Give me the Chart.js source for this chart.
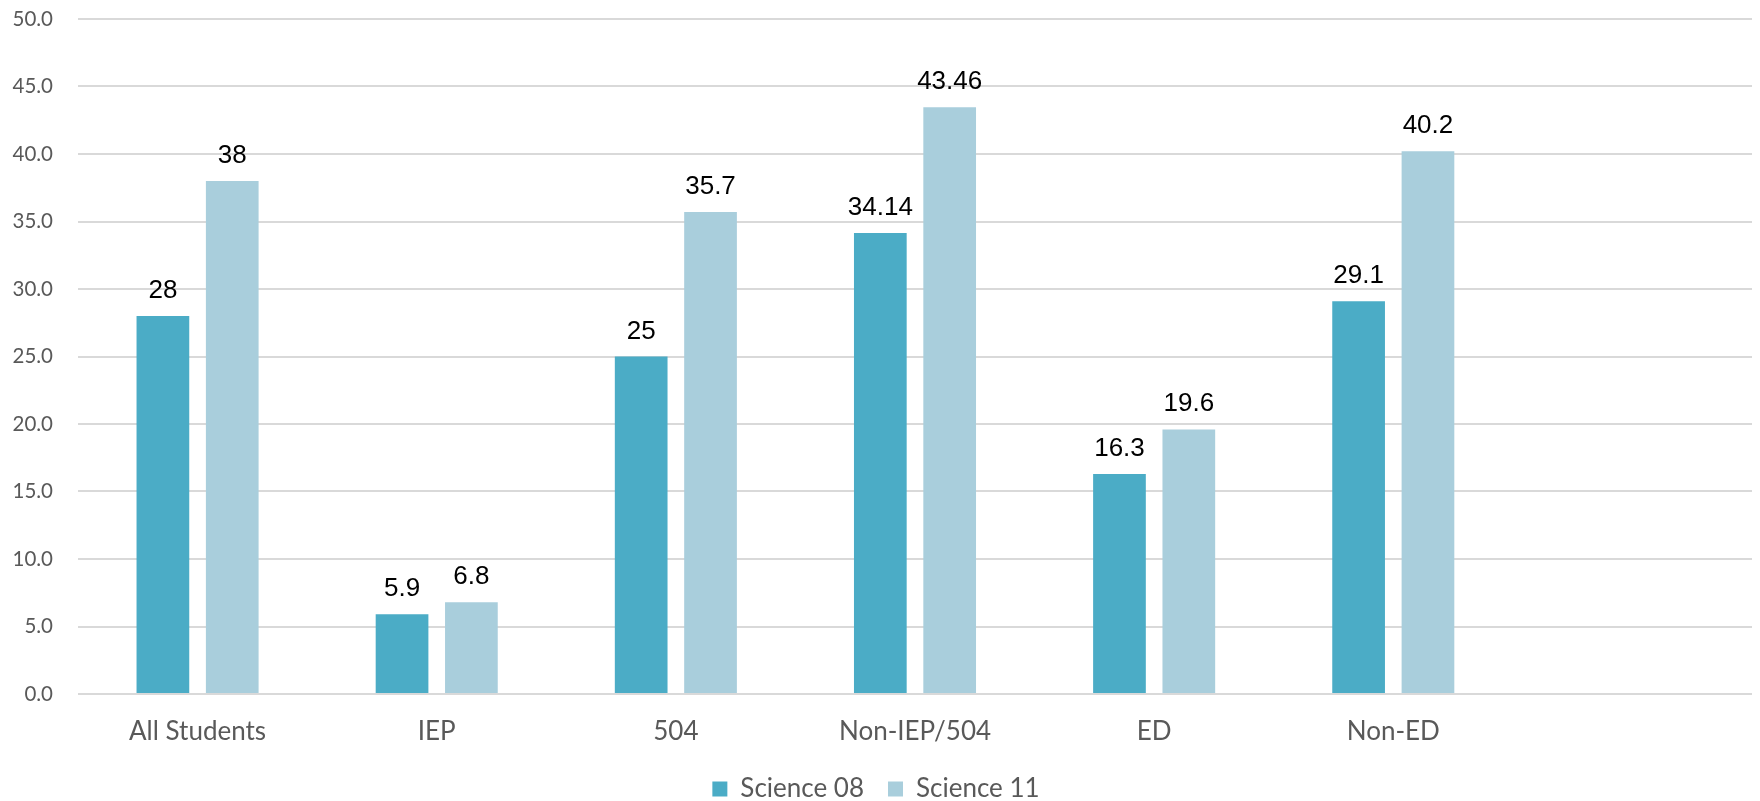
<!DOCTYPE html>
<html>
<head>
<meta charset="utf-8">
<script src="https://cdn.jsdelivr.net/npm/chart.js@4"></script>
<style>
  html, body { margin: 0; padding: 0; background: #fff; }
  #wrap { width: 1760px; height: 801px; }
</style>
</head>
<body>
<div id="wrap"><canvas id="chart"></canvas></div>
<script>
// dados
const categories = ['All Students', 'IEP', '504', 'Non-IEP/504', 'ED', 'Non-ED', ''];
const science08 = [28, 5.9, 25, 34.14, 16.3, 29.1, null];
const science11 = [38, 6.8, 35.7, 43.46, 19.6, 40.2, null];
const seriesNames = ['Science 08', 'Science 11'];
const yTicks = [0, 5, 10, 15, 20, 25, 30, 35, 40, 45, 50];

// rótulos de valor acima das barras
const valueLabels = {
  id: 'valueLabels',
  afterDatasetsDraw(chart) {
    const ctx = chart.ctx;
    ctx.save();
    ctx.font = '26px "Liberation Sans", Arial, sans-serif';
    ctx.fillStyle = '#000';
    ctx.textAlign = 'center';
    ctx.textBaseline = 'alphabetic';
    chart.data.datasets.forEach((ds, i) => {
      chart.getDatasetMeta(i).data.forEach((bar, j) => {
        if (ds.data[j] == null) return;
        ctx.fillText(String(ds.data[j]), bar.x, bar.y - 18);
      });
    });
    ctx.restore();
  }
};

const chart = new Chart(document.getElementById('chart'), {
  type: 'bar',
  data: {
    labels: categories,
    datasets: [{
      label: seriesNames[0],
      data: science08,
      backgroundColor: '#4BACC6',
      categoryPercentage: 0.58,
      barPercentage: 0.76
    }, {
      label: seriesNames[1],
      data: science11,
      backgroundColor: '#A9CEDC',
      categoryPercentage: 0.58,
      barPercentage: 0.76
    }]
  },
  options: {
    responsive: true,
    maintainAspectRatio: false,
    animation: false,
    layout: { padding: { top: 19, right: 8 } },
    plugins: {
      tooltip: { enabled: false },
      legend: {
        position: 'bottom',
        labels: {
          boxWidth: 15,
          boxHeight: 15,
          color: '#595959',
          font: { family: 'Lato', size: 26 },
          padding: 24
        }
      }
    },
    scales: {
      x: {
        afterFit(scale) { scale.height = 58; },
        grid: { display: false },
        border: { display: false },
        ticks: {
          color: '#595959',
          font: { family: 'Lato', size: 26 },
          padding: 14,
          maxRotation: 0
        }
      },
      y: {
        min: 0,
        max: 50,
        afterFit(scale) {
          scale.width = 78;
          scale.paddingTop = 0;
          scale.paddingBottom = 0;
        },
        afterBuildTicks(scale) { scale.ticks = yTicks.map(v => ({ value: v })); },
        grid: { color: '#d9d9d9', lineWidth: 2, drawTicks: false },
        border: { display: false },
        ticks: {
          color: '#595959',
          font: { family: 'Lato', size: 20.5 },
          padding: 25,
          callback: v => v.toFixed(1)
        }
      }
    }
  },
  plugins: [valueLabels]
});

// altura fixa da legenda (o padding também separa os itens)
if (chart.legend) {
  const legendFit = chart.legend.fit;
  chart.legend.fit = function () {
    legendFit.call(this);
    this.height = 49;
  };
  chart.update();
}
</script>
</body>
</html>
